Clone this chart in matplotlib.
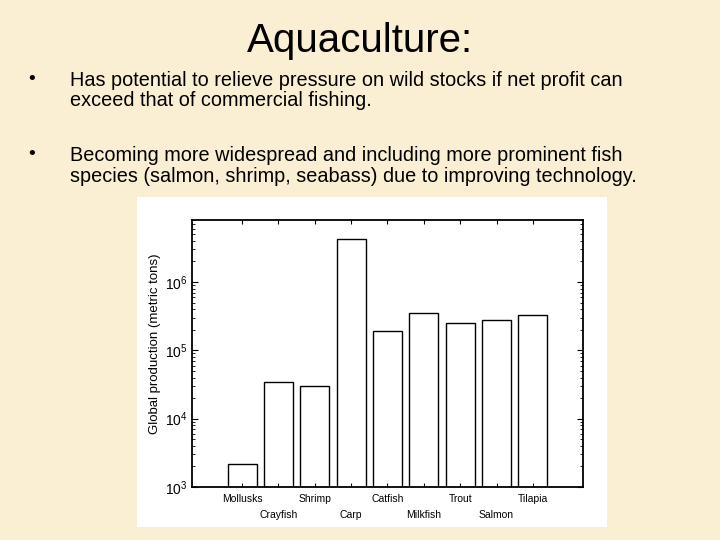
import matplotlib
matplotlib.use("Agg")
import matplotlib.pyplot as plt
from matplotlib.patches import Rectangle
from matplotlib.ticker import LogLocator, NullFormatter

plt.rcParams['font.family'] = ['Liberation Sans', 'DejaVu Sans']
plt.rcParams['mathtext.fontset'] = 'custom'
plt.rcParams['mathtext.rm'] = 'Liberation Sans'
plt.rcParams['mathtext.it'] = 'Liberation Sans:italic'
plt.rcParams['mathtext.bf'] = 'Liberation Sans:bold'

title = "Aquaculture:"
bullets = [
    "Has potential to relieve pressure on wild stocks if net profit can\nexceed that of commercial fishing.",
    "Becoming more widespread and including more prominent fish\nspecies (salmon, shrimp, seabass) due to improving technology.",
]
categories = ["Mollusks", "Crayfish", "Shrimp", "Carp", "Catfish",
              "Milkfish", "Trout", "Salmon", "Tilapia"]
production = [2170, 34000, 30000, 4300000, 190000, 350000, 250000, 280000, 325000]
ytick_vals = [1e3, 1e4, 1e5, 1e6]
ytick_labels = [r"$10^3$", r"$10^4$", r"$10^5$", r"$10^6$"]
ylabel = "Global production (metric tons)"

bg = "#FBEFD3"
fig = plt.figure(figsize=(7.2, 5.4), dpi=100, facecolor=bg)

# title and bullets
fig.text(0.5, 1 - 41 / 540, title, ha="center", va="center", fontsize=29, color="black")
bullet_y = [1 - 71 / 540, 1 - 146 / 540]
for y, b in zip(bullet_y, bullets):
    fig.text(28 / 720, y, "\u2022", ha="left", va="top", fontsize=14)
    fig.text(70 / 720, y, b, ha="left", va="top", fontsize=14.3, linespacing=1.1)

# white chart panel
fig.patches.append(Rectangle((137 / 720, 13 / 540), 470 / 720, 330 / 540,
                             transform=fig.transFigure, facecolor="white",
                             edgecolor="none", zorder=-1))

ax = fig.add_axes([192 / 720, 53 / 540, 391 / 720, 267 / 540])
ax.set_zorder(2)
ax.set_facecolor("white")
x = list(range(len(categories)))
ax.bar(x, production, width=0.8, color="white", edgecolor="black", linewidth=1.0, log=True)
ax.set_yscale("log")
ax.set_ylim(1e3, 8.1e6)
ax.set_xlim(-1.38, 9.38)

ax.set_yticks(ytick_vals)
ax.set_yticklabels(ytick_labels, fontsize=10)
ax.yaxis.set_minor_locator(LogLocator(base=10, subs=range(2, 10)))
ax.yaxis.set_minor_formatter(NullFormatter())

labels = [c if i % 2 == 0 else "\n" + c for i, c in enumerate(categories)]
ax.set_xticks(x)
ax.set_xticklabels(labels, fontsize=7.5, linespacing=1.75)
ax.set_ylabel(ylabel, fontsize=9.5, labelpad=2)
ax.yaxis.set_label_coords(-0.08, 0.535)

ax.tick_params(axis="both", which="both", direction="in", top=True, right=True)
ax.tick_params(axis="x", which="major", length=3, width=0.8, pad=5)
ax.tick_params(axis="y", which="major", length=4, width=0.8, pad=3)
ax.tick_params(axis="y", which="minor", length=2, width=0.6)
for s in ax.spines.values():
    s.set_linewidth(1.3)

fig.savefig("out.png", dpi=100, facecolor=bg)
